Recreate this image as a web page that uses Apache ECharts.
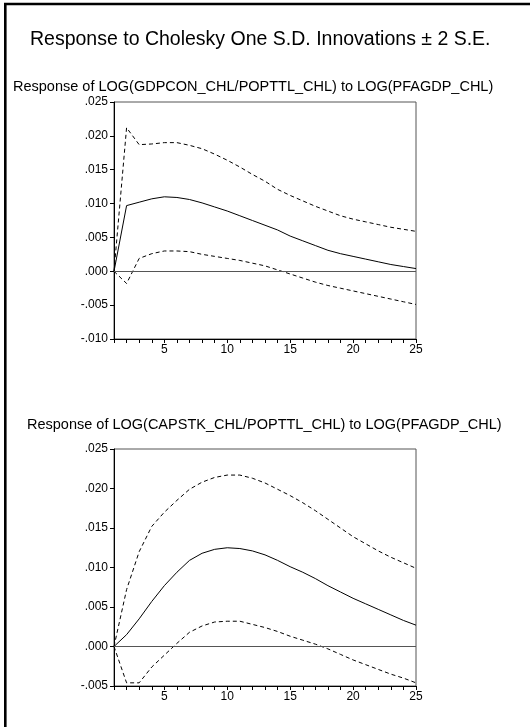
<!DOCTYPE html>
<html>
<head>
<meta charset="utf-8">
<script src="https://cdn.jsdelivr.net/npm/echarts@6/dist/echarts.min.js"></script>
<style>
  html, body { margin: 0; padding: 0; background: #fff; }
  #chart { width: 530px; height: 727px; }
</style>
</head>
<body>
<div id="chart"></div>
<script>
// Impulse-response horizon (periods)
const periods = [1, 2, 3, 4, 5, 6, 7, 8, 9, 10, 11, 12, 13, 14, 15, 16, 17, 18, 19, 20, 21, 22, 23, 24, 25];

// Response of LOG(GDPCON_CHL/POPTTL_CHL) to LOG(PFAGDP_CHL)
const gdpResponse = [0, 0.0097, 0.0102, 0.0107, 0.0110, 0.0109, 0.0106, 0.0101, 0.0095, 0.0089, 0.0082, 0.0075, 0.0068, 0.0061, 0.0052, 0.0045, 0.0038, 0.0031, 0.0026, 0.0022, 0.0018, 0.0014, 0.0010, 0.0007, 0.0004];
const gdpUpper = [0, 0.0212, 0.0187, 0.0188, 0.0190, 0.0190, 0.0186, 0.0181, 0.0173, 0.0164, 0.0154, 0.0143, 0.0133, 0.0121, 0.0112, 0.0104, 0.0096, 0.0089, 0.0082, 0.0077, 0.0073, 0.0069, 0.0065, 0.0062, 0.0059];
const gdpLower = [0, -0.0018, 0.0019, 0.0026, 0.0030, 0.0030, 0.0029, 0.0025, 0.0022, 0.0019, 0.0016, 0.0012, 0.0008, 0.0002, -0.0004, -0.0010, -0.0016, -0.0021, -0.0025, -0.0029, -0.0033, -0.0037, -0.0041, -0.0045, -0.0049];

// Response of LOG(CAPSTK_CHL/POPTTL_CHL) to LOG(PFAGDP_CHL)
const capResponse = [0, 0.0015, 0.0035, 0.0057, 0.0077, 0.0094, 0.0109, 0.0118, 0.0123, 0.0125, 0.0124, 0.0121, 0.0116, 0.0109, 0.0101, 0.0094, 0.0086, 0.0077, 0.0069, 0.0061, 0.0054, 0.0047, 0.0040, 0.0033, 0.0027];
const capUpper = [0, 0.0072, 0.0120, 0.0152, 0.0170, 0.0185, 0.0199, 0.0208, 0.0214, 0.0217, 0.0217, 0.0213, 0.0207, 0.0199, 0.0191, 0.0182, 0.0172, 0.0161, 0.0150, 0.0139, 0.0130, 0.0121, 0.0113, 0.0106, 0.0099];
const capLower = [0, -0.0046, -0.0046, -0.0026, -0.0011, 0.0004, 0.0018, 0.0026, 0.0031, 0.0032, 0.0032, 0.0028, 0.0024, 0.0019, 0.0013, 0.0008, 0.0003, -0.0003, -0.0010, -0.0017, -0.0023, -0.0029, -0.0035, -0.0040, -0.0046];

// Axis ranges and labels
const mainTitle = 'Response to Cholesky One S.D. Innovations \u00b1 2 S.E.';
const panelTitles = [
  'Response of LOG(GDPCON_CHL/POPTTL_CHL) to LOG(PFAGDP_CHL)',
  'Response of LOG(CAPSTK_CHL/POPTTL_CHL) to LOG(PFAGDP_CHL)'
];
const yRanges = [[-0.010, 0.025], [-0.005, 0.025]];
const yStep = 0.005;
const xLabelEvery = 5;

const FONT = '"Liberation Sans", Arial, sans-serif';

function fmtY(v) {
  const r = Math.round(v * 1000) / 1000;
  if (Math.abs(r) < 1e-9) return '.000';
  return (r < 0 ? '-' : '') + Math.abs(r).toFixed(3).slice(1);
}

function pairs(ys) {
  return periods.map((p, i) => [p, ys[i]]);
}

const grids = [
  { left: 114, top: 102, width: 302, height: 237 },
  { left: 114, top: 449, width: 302, height: 237 }
].map(g => Object.assign(g, { show: true, borderColor: '#555', borderWidth: 1, backgroundColor: 'transparent' }));

const xAxes = grids.map((g, i) => ({
  type: 'value', gridIndex: i, min: 1, max: 25, interval: 1,
  axisLine: { show: true, onZero: false, lineStyle: { color: '#000', width: 1 } },
  axisTick: { show: true, inside: false, length: 4, lineStyle: { color: '#000' } },
  axisLabel: {
    show: true, margin: 5, color: '#000', fontFamily: FONT, fontSize: 12,
    formatter: v => (Math.round(v) % xLabelEvery === 0 ? String(Math.round(v)) : ''),
    hideOverlap: false
  },
  splitLine: { show: false }
}));

const yAxes = grids.map((g, i) => ({
  type: 'value', gridIndex: i, min: yRanges[i][0], max: yRanges[i][1], interval: yStep,
  axisLine: { show: true, onZero: false, lineStyle: { color: '#000', width: 1 } },
  axisTick: { show: true, inside: false, length: 4, lineStyle: { color: '#000' } },
  axisLabel: { show: true, margin: 6, color: '#000', fontFamily: FONT, fontSize: 12, formatter: fmtY },
  splitLine: { show: false }
}));

function lineSeries(ys, idx, dashed, withZero) {
  const s = {
    type: 'line', xAxisIndex: idx, yAxisIndex: idx,
    data: pairs(ys), showSymbol: false, symbol: 'none', smooth: false,
    lineStyle: { color: '#000', width: 1, type: dashed ? [4, 3] : 'solid' },
    silent: true, z: 3
  };
  if (withZero) {
    s.markLine = {
      silent: true, symbol: ['none', 'none'], label: { show: false },
      lineStyle: { color: '#555', width: 1, type: 'solid' },
      data: [{ yAxis: 0 }], animation: false
    };
  }
  return s;
}

const series = [
  lineSeries(gdpResponse, 0, false, true),
  lineSeries(gdpUpper, 0, true, false),
  lineSeries(gdpLower, 0, true, false),
  lineSeries(capResponse, 1, false, true),
  lineSeries(capUpper, 1, true, false),
  lineSeries(capLower, 1, true, false)
];

const chart = echarts.init(document.getElementById('chart'), null, { renderer: 'canvas' });
chart.setOption({
  animation: false,
  backgroundColor: '#fff',
  title: [
    { text: mainTitle, left: 30, top: 30, padding: 0,
      textStyle: { fontFamily: FONT, fontSize: 19.5, fontWeight: 'normal', color: '#000' } },
    { text: panelTitles[0], left: 13, top: 79, padding: 0,
      textStyle: { fontFamily: FONT, fontSize: 14.5, fontWeight: 'normal', color: '#000' } },
    { text: panelTitles[1], left: 27, top: 417, padding: 0,
      textStyle: { fontFamily: FONT, fontSize: 14.5, fontWeight: 'normal', color: '#000' } }
  ],
  graphic: [{
    type: 'rect', silent: true,
    shape: { x: 5.3, y: 4, width: 700, height: 900 },
    style: { fill: 'none', stroke: '#000', lineWidth: 2.6 }
  }],
  grid: grids,
  xAxis: xAxes,
  yAxis: yAxes,
  series: series
});
</script>
</body>
</html>
